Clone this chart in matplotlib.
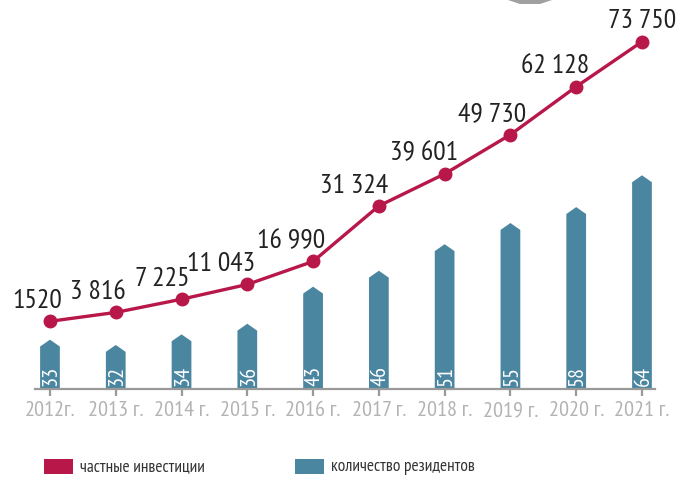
import matplotlib.pyplot as plt
from matplotlib.patches import Polygon, Rectangle

years = ["2012г.", "2013 г.", "2014 г.", "2015 г.", "2016 г.",
         "2017 г.", "2018 г.", "2019 г.", "2020 г.", "2021 г."]
investments = [1520, 3816, 7225, 11043, 16990, 31324, 39601, 49730, 62128, 73750]
inv_labels = ["1520", "3 816", "7 225", "11 043", "16 990",
              "31 324", "39 601", "49 730", "62 128", "73 750"]
residents = [33, 32, 34, 36, 43, 46, 51, 55, 58, 64]

RED = "#b8174a"
BLUE = "#4b86a0"
plt.rcParams["font.family"] = ["PT Sans Narrow", "Roboto Condensed", "DejaVu Sans"]

fig = plt.figure(figsize=(6.83, 4.82), dpi=100)
ax = fig.add_axes([0.0512, 0.193, 0.908, 0.7656])
ax2 = ax.twinx()

# residents: bars with a pointed top
x = list(range(len(years)))
bw = 0.30
tip = 1.3
for i, v in zip(x, residents):
    poly = Polygon([(i - bw / 2, 0), (i - bw / 2, v), (i, v + tip),
                    (i + bw / 2, v), (i + bw / 2, 0)],
                   closed=True, facecolor=BLUE, edgecolor="none", zorder=2)
    ax.add_patch(poly)
    ax.text(i + 0.02, 25.5, str(v), rotation=90, ha="center", va="bottom",
            color="white", fontsize=16, zorder=3)

ax.set_xlim(-0.228, 9.2)
ax.set_ylim(25, 94.6)

# private investments: line with labelled points
ax2.plot(x, investments, color=RED, lw=2.4, marker="o", ms=9, zorder=4)
ax2.set_ylim(-15960, 79364)
offsets = [(-9, 6), (-13, 6), (-14, 6), (-19, 6), (-16, 6),
           (-18, 6), (-15, 6), (-13, 6), (-15, 6), (0, 6)]
for i, v, lab, off in zip(x, investments, inv_labels, offsets):
    ax2.annotate(lab, (i, v), xytext=off, textcoords="offset points",
                 ha="center", va="bottom", fontsize=20, color="#222222")

for a in (ax, ax2):
    for side in ("top", "right", "left"):
        a.spines[side].set_visible(False)
    a.set_yticks([])
ax2.spines["bottom"].set_visible(False)
ax.spines["bottom"].set_color("#999999")
ax.spines["bottom"].set_linewidth(1.6)
ax.set_xticks(x)
ax.set_xticklabels(years)
ax.tick_params(axis="x", length=5, width=1.6, color="#999999",
               labelcolor="#b3b3b3", labelsize=16, pad=4)

# legend along the bottom
fig.patches.append(Rectangle((44 / 683, 1 - 474 / 482), 29 / 683, 15 / 482,
                             transform=fig.transFigure, facecolor=RED,
                             edgecolor="none"))
fig.text(80 / 683, 1 - 467 / 482, "частные инвестиции", fontsize=12.5,
         color="#333333", va="center")
fig.patches.append(Rectangle((295 / 683, 1 - 474 / 482), 29 / 683, 15 / 482,
                             transform=fig.transFigure, facecolor=BLUE,
                             edgecolor="none"))
fig.text(331 / 683, 1 - 467 / 482, "количество резидентов", fontsize=12.5,
         color="#333333", va="center")

# grey chevron cut off at the top edge
fig.patches.append(Polygon([(508 / 683, 1.0), (552 / 683, 1.0),
                            (540 / 683, 1 - 4 / 482), (520 / 683, 1 - 4 / 482)],
                           closed=True, transform=fig.transFigure,
                           facecolor="#a0a0a0", edgecolor="none"))

fig.savefig("out.png", dpi=100)
